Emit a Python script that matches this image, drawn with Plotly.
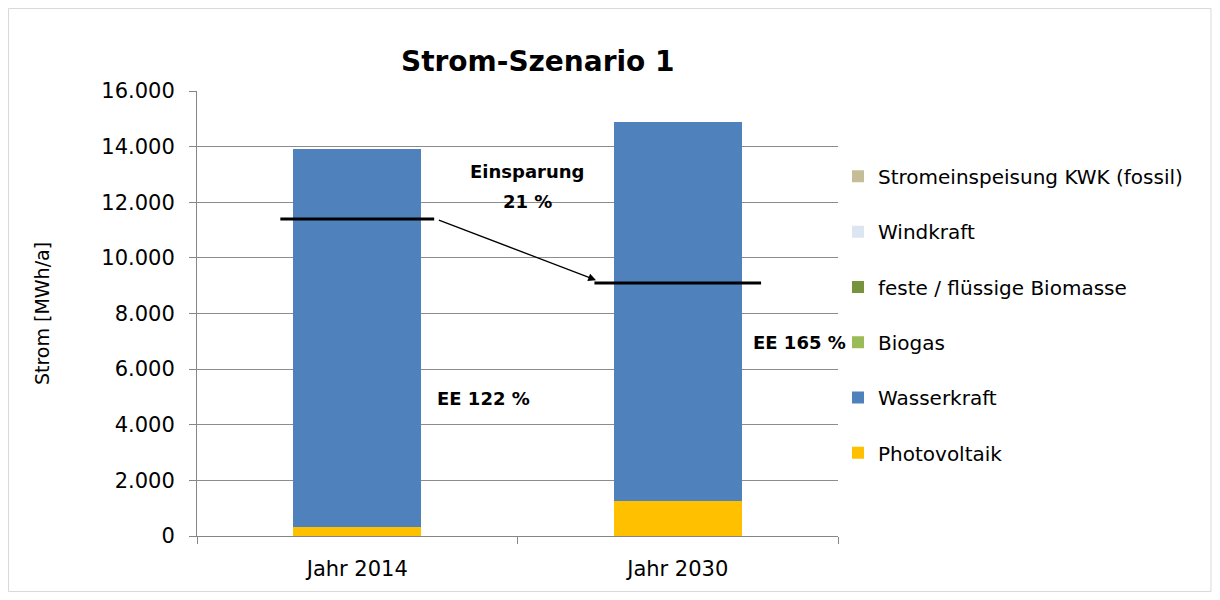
import plotly.graph_objects as go

kategorien = ["Jahr 2014", "Jahr 2030"]
photovoltaik = [320, 1250]
wasserkraft = [13580, 13640]
biogas = [0, 0]
biomasse = [0, 0]
windkraft = [0, 0]
kwk_fossil = [0, 0]
verbrauch = [11400, 9100]
y_ticks = [0, 2000, 4000, 6000, 8000, 10000, 12000, 14000, 16000]

serien = [
    ("Photovoltaik", photovoltaik, "#FFC000"),
    ("Wasserkraft", wasserkraft, "#4F81BD"),
    ("Biogas", biogas, "#9BBB59"),
    ("feste / flüssige Biomasse", biomasse, "#77933C"),
    ("Windkraft", windkraft, "#DCE6F2"),
    ("Stromeinspeisung KWK (fossil)", kwk_fossil, "#C4BD97"),
]

FONT = "DejaVu Sans"
# figure is drawn at an 8px body offset: plot area 197..838 x 91..536 in window
W, H = 1212, 592
L, T, R, B = 189, 83, 382, 64
PW, PH = W - L - R, H - T - B

fig = go.Figure()
n = len(serien)
for k, (name, vals, col) in enumerate(serien):
    fig.add_trace(go.Bar(x=kategorien, y=vals, name=name, marker_color=col,
                         marker_line_width=0, width=0.4, legendgroup=name,
                         legendrank=n - k))

# consumption lines
half = [0.24, 0.26]
for i, v in enumerate(verbrauch):
    fig.add_shape(type="line", xref="x", yref="y", x0=i - half[i], x1=i + half[i],
                  y0=v, y1=v, line=dict(color="black", width=3))

# arrow
fig.add_annotation(x=0.745, y=9200, ax=0.25, ay=11380, xref="x", yref="y",
                   axref="x", ayref="y", text="", showarrow=True,
                   arrowhead=2, arrowsize=1.2, arrowwidth=1.3, arrowcolor="black")

bold = dict(family=FONT, size=18, color="black")
fig.add_annotation(x=0.53, y=13090, xref="x", yref="y", text="<b>Einsparung</b>",
                   showarrow=False, font=bold)
fig.add_annotation(x=0.53, y=12010, xref="x", yref="y", text="<b>21 %</b>",
                   showarrow=False, font=bold)
fig.add_annotation(x=0.395, y=4960, xref="x", yref="y", text="<b>EE 122 %</b>",
                   showarrow=False, font=bold)
fig.add_annotation(x=1.38, y=6975, xref="x", yref="y", text="<b>EE 165 %</b>",
                   showarrow=False, font=bold)

# title (window 538, 62)
fig.add_annotation(x=(538 - 8 - L) / PW, y=(T + PH - (62 - 8)) / PH, xref="paper", yref="paper",
                   text="<b>Strom-Szenario 1</b>", showarrow=False,
                   font=dict(family=FONT, size=28, color="black"), yanchor="middle")

# outer border (window 8..1211 x 8..592)
fig.add_shape(type="rect", xref="paper", yref="paper",
              x0=(0.5 - L) / PW, x1=(1203 - L) / PW,
              y0=(T + PH - 583.5) / PH, y1=(T + PH - 0.5) / PH,
              line=dict(color="#d9d9d9", width=1))

fig.update_layout(
    width=W, height=H,
    margin=dict(l=L, r=R, t=T, b=B),
    barmode="stack",
    paper_bgcolor="white", plot_bgcolor="white",
    separators=",.",
    font=dict(family=FONT, size=18, color="black"),
    showlegend=True,
    legend=dict(x=1.0, y=0.852, xanchor="left", yanchor="top",
                traceorder="grouped", tracegroupgap=26.3,
                font=dict(family=FONT, size=20, color="black"),
                bgcolor="rgba(0,0,0,0)"),
    xaxis=dict(range=[-0.5, 1.5], showline=True, linecolor="#868686", linewidth=1,
               ticks="outside", tickson="boundaries", ticklen=7, tickcolor="#868686",
               tickfont=dict(size=21), showgrid=False, ticklabelstandoff=14),
    yaxis=dict(range=[0, 16000], tickvals=y_ticks, tickformat=",d",
               showline=True, linecolor="#868686", linewidth=1, ticks="outside",
               ticklen=7, tickcolor="#868686", showgrid=True, gridcolor="#8c8c8c",
               gridwidth=1, tickfont=dict(size=21), ticklabelstandoff=10,
               title=dict(text="Strom [MWh/a]", font=dict(size=19), standoff=46)),
)

fig.write_html("out.html")
